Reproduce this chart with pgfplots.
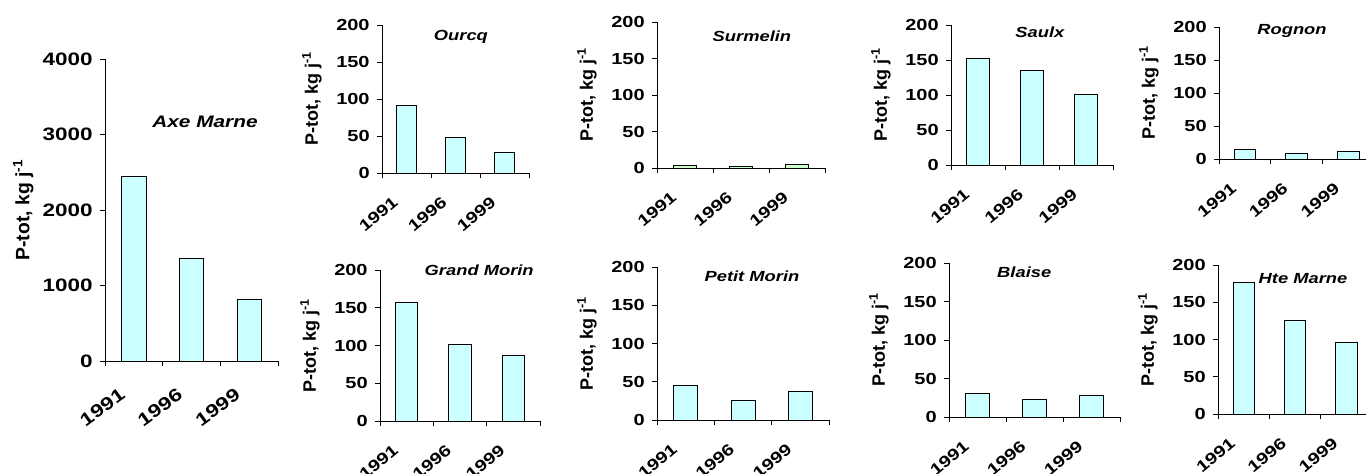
\documentclass[border=0pt]{standalone}
\usepackage{fontspec}
\setmainfont{Liberation Sans}[FakeStretch=1.25]
\newfontfamily\ylfont{Liberation Sans}
\usepackage{pgfplots}
\pgfplotsset{compat=1.18}

\definecolor{barcyan}{HTML}{CCFFFF}
\definecolor{bargreen}{HTML}{CCFFCC}
\newcommand\tickfont{\fontsize{12}{13}\selectfont\bfseries}
\newcommand\bigtickfont{\fontsize{13.5}{15}\selectfont\bfseries}
\newcommand\titlefont{\fontsize{11}{12}\selectfont\bfseries\itshape}

\pgfplotsset{
  panel/.style={
    scale only axis, anchor=south west, clip=false,
    axis lines*=left, axis line style={line width=0.6pt},
    xmin=-0.5, xmax=2.5, ymin=0, ymax=200, ytick={0,50,...,200},
    xtick={0,1,2}, xticklabels={1991,1996,1999},
    minor xtick={-0.5,0.5,1.5,2.5},
    major x tick style={draw=none},
    tick align=outside, major tick length=3.75pt, minor tick length=3.75pt,
    every tick/.style={black, line width=0.6pt},
    /pgf/number format/assume math mode=true,
    /pgf/number format/1000 sep={},
    yticklabel style={font=\tickfont, xshift=-2pt},
    xticklabel style={font=\tickfont, inner sep=0pt, xshift=-11pt, yshift=-13pt, rotate=40, anchor=north east},
    ylabel={P-tot, kg j\textsuperscript{-1}},
    ylabel style={font=\fontsize{13.5}{14}\selectfont\ylfont\bfseries},
    ylabel shift=4pt,
    ybar, bar width=0.42,
  },
  bars/.style={fill=barcyan, draw=black, line width=0.6pt},
}

\begin{document}
\begin{tikzpicture}

% Axe Marne, big panel on the left
\begin{axis}[panel, at={(78.75pt,84.75pt)}, width=129.75pt, height=226.5pt,
  ymax=4000, ytick={0,1000,...,4000},
  yticklabel style={font=\bigtickfont},
  xticklabel style={font=\bigtickfont, xshift=-2pt, yshift=-2pt, rotate=-4},
  ylabel shift=0pt,
  ylabel style={font=\fontsize{14.5}{15}\selectfont\ylfont\bfseries}]
  \addplot[bars] coordinates {(0,2440) (1,1360) (2,815)};
  \node[font=\fontsize{12.5}{14}\selectfont\bfseries\itshape] at (rel axis cs:0.578,0.793) {Axe Marne};
\end{axis}

% top row
\begin{axis}[panel, at={(286.5pt,225.75pt)}, width=110.25pt, height=111pt]
  \addplot[bars] coordinates {(0,91) (1,48) (2,28)};
  \node[font=\titlefont] at (rel axis cs:0.537,0.919) {Ourcq};
\end{axis}
\begin{axis}[panel, at={(492.75pt,229.5pt)}, width=126pt, height=109.5pt]
  \addplot[bars, fill=bargreen] coordinates {(0,3.5) (1,1.5) (2,5)};
  \node[font=\titlefont] at (rel axis cs:0.565,0.904) {Surmelin};
\end{axis}
\begin{axis}[panel, at={(713.25pt,231.75pt)}, width=121.5pt, height=105pt]
  \addplot[bars] coordinates {(0,152) (1,135) (2,101)};
  \node[font=\titlefont] at (rel axis cs:0.549,0.946) {Saulx};
\end{axis}
\begin{axis}[panel, at={(914.25pt,236.25pt)}, width=116.25pt, height=99pt]
  \addplot[bars] coordinates {(0,14) (1,9) (2,12)};
  \node[font=\titlefont] at (rel axis cs:0.471,0.97) {Rognon};
\end{axis}

% bottom row
\begin{axis}[panel, at={(285pt,39.75pt)}, width=120pt, height=113.25pt]
  \addplot[bars] coordinates {(0,157) (1,102) (2,87)};
  \node[font=\titlefont] at (rel axis cs:0.62,1.0) {Grand Morin};
\end{axis}
\begin{axis}[panel, at={(492.75pt,40.5pt)}, width=129pt, height=114.75pt]
  \addplot[bars] coordinates {(0,45) (1,26) (2,37.5)};
  \node[font=\titlefont] at (rel axis cs:0.552,0.938) {Petit Morin};
\end{axis}
\begin{axis}[panel, at={(711.75pt,42.75pt)}, width=128.25pt, height=115.5pt]
  \addplot[bars] coordinates {(0,31) (1,22.5) (2,28)};
  \node[font=\titlefont] at (rel axis cs:0.44,0.94) {Blaise};
\end{axis}
\begin{axis}[panel, at={(913.5pt,45pt)}, width=115.5pt, height=111.75pt]
  \addplot[bars] coordinates {(0,176) (1,126) (2,96)};
  \node[font=\titlefont] at (rel axis cs:0.552,0.906) {Hte Marne};
\end{axis}

\pgfresetboundingbox
\useasboundingbox (0,0) rectangle (1024.5pt,355.5pt);
\end{tikzpicture}
\end{document}
